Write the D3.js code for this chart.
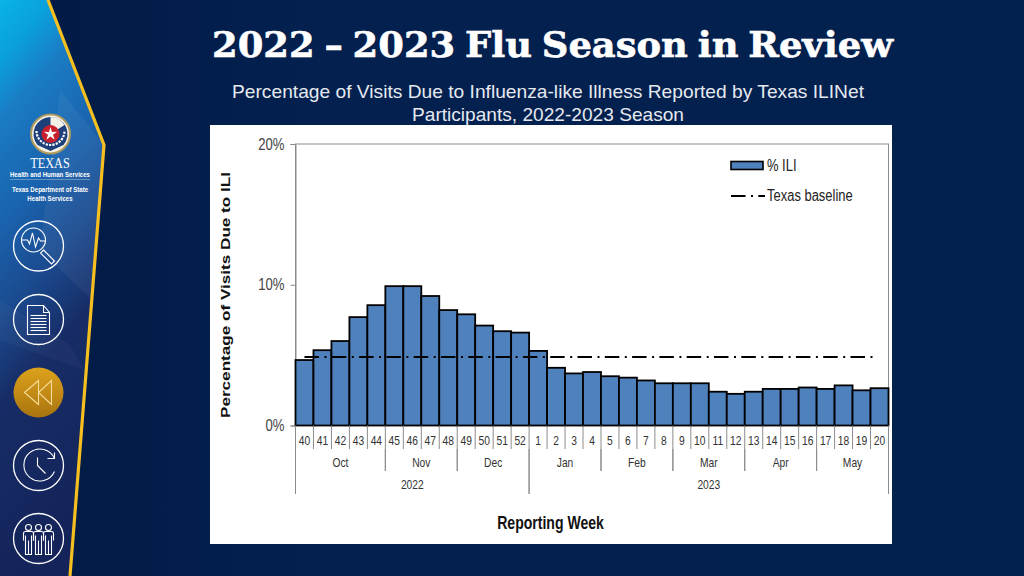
<!DOCTYPE html>
<html><head><meta charset="utf-8">
<script src="https://cdn.jsdelivr.net/npm/d3@7/dist/d3.min.js"></script>
<style>html,body{margin:0;padding:0;background:#03204f;overflow:hidden}svg{display:block}</style></head>
<body><svg id="c" width="1024" height="576" xmlns="http://www.w3.org/2000/svg"></svg>
<script>
const weeks=["40","41","42","43","44","45","46","47","48","49","50","51","52","1","2","3","4","5","6","7","8","9","10","11","12","13","14","15","16","17","18","19","20"];
const ili=[4.65,5.35,6.0,7.7,8.55,9.9,9.9,9.2,8.2,7.9,7.1,6.7,6.6,5.3,4.1,3.7,3.8,3.5,3.4,3.2,3.0,3.0,3.0,2.4,2.25,2.4,2.6,2.6,2.7,2.6,2.85,2.5,2.65];
const baseline=4.87;
const yTicks=[0,10,20];
const months=["Oct","Nov","Dec","Jan","Feb","Mar","Apr","May"];
const monthWeekCounts=[5,4,4,4,4,4,4,4];
const years=["2022","2023"];
const yearWeekCounts=[13,20];
const titleText="2022 – 2023 Flu Season in Review";
const subtitleLines=["Percentage of Visits Due to Influenza-like Illness Reported by Texas ILINet","Participants, 2022-2023 Season"];
const legendLabels=["% ILI","Texas baseline"];

const svg=d3.select("#c");
const defs=svg.append("defs");
const bg=defs.append("linearGradient").attr("id","bg").attr("x1",0).attr("x2",1).attr("y1",0).attr("y2",0);
bg.append("stop").attr("offset","0").attr("stop-color","#021a44");
bg.append("stop").attr("offset","0.3").attr("stop-color","#03204f");
bg.append("stop").attr("offset","1").attr("stop-color","#03214f");
const sb=defs.append("linearGradient").attr("id","sb").attr("x1",0).attr("x2",0.2).attr("y1",0).attr("y2",1);
[[0,"#08b4e6"],[0.1,"#0aa0dc"],[0.2,"#1a7cc4"],[0.38,"#1a62ad"],[0.52,"#1b4c91"],[0.68,"#172c66"],[1,"#14245a"]].forEach(d=>sb.append("stop").attr("offset",d[0]).attr("stop-color",d[1]));
const gold=defs.append("linearGradient").attr("id","gold").attr("x1",0).attr("x2",0).attr("y1",0).attr("y2",1);
gold.append("stop").attr("offset","0").attr("stop-color","#dca21c");
gold.append("stop").attr("offset","1").attr("stop-color","#a9740f");
svg.append("rect").attr("width",1024).attr("height",576).attr("fill","url(#bg)");

// sidebar
svg.append("path").attr("d","M0 0L48 0L104 145L70 576L0 576Z").attr("fill","url(#sb)");
svg.append("path").attr("d","M60 90L104 145L92 300L40 250Z").attr("fill","#fff").attr("opacity",.05);
svg.append("path").attr("d","M0 300L70 345L84 370L0 340Z").attr("fill","#fff").attr("opacity",.03);
svg.append("path").attr("d","M48 0L104 145L70 576").attr("fill","none").attr("stroke","#f6bf20").attr("stroke-width",3.2);

const narrowEls=[];
const nar=(sel,s)=>{sel.each(function(){narrowEls.push([this,s])});return sel;};
const sans="Liberation Sans";

// seal
const seal=svg.append("g").attr("transform","translate(50.5,134)");
seal.append("circle").attr("r",19.5).attr("fill","#f4f1e6").attr("stroke","#b09a5e").attr("stroke-width",2);
seal.append("path").attr("d","M0 -17A17 17 0 0 0 -13 11L0 17L13 11A17 17 0 0 0 0 -17Z").attr("fill","#1d3f7a");
seal.append("path").attr("d","M0 -17A17 17 0 0 1 14 -9L0 0Z").attr("fill","#f4f1e6");
seal.append("path").attr("d","M-14 -3A14 14 0 0 0 14 -3").attr("fill","none").attr("stroke","#fff").attr("stroke-width",2.2).attr("stroke-dasharray","2.2 1.2");
seal.append("circle").attr("r",9).attr("fill","#c8202c");
const star=d3.range(10).map(i=>{const r=i%2?2.6:7,a=i*Math.PI/5-Math.PI/2;return [r*Math.cos(a),r*Math.sin(a)]});
seal.append("path").attr("d",d3.line()(star)+"Z").attr("fill","#fff");
const sideT=svg.append("g").attr("fill","#fff").attr("text-anchor","middle");
nar(sideT.append("text").attr("x",50).attr("y",168).attr("font-family","Liberation Serif").attr("font-size",14.5).text("TEXAS"),.85);
nar(sideT.append("text").attr("x",50).attr("y",176.5).attr("font-family",sans).attr("font-weight","bold").attr("font-size",7.6).text("Health and Human Services"),.8);
svg.append("line").attr("x1",10).attr("x2",90).attr("y1",179.5).attr("y2",179.5).attr("stroke","#8fb4d8").attr("stroke-width",.6);
nar(sideT.append("text").attr("x",50).attr("y",192).attr("font-family",sans).attr("font-weight","bold").attr("font-size",7.6).text("Texas Department of State"),.8);
nar(sideT.append("text").attr("x",50).attr("y",201).attr("font-family",sans).attr("font-weight","bold").attr("font-size",7.6).text("Health Services"),.8);

// round icons
const icon=(cy,fill)=>{const g=svg.append("g").attr("transform",`translate(38.5,${cy})`).attr("fill","none").attr("stroke","#fff").attr("stroke-width",1.1);
 g.append("circle").attr("r",25).attr("stroke-width",1.3).attr("fill",fill||"none").attr("stroke",fill?"none":"#fff");return g;};
let g=icon(246);
g.append("circle").attr("cx",-5).attr("cy",-6).attr("r",12);
g.append("path").attr("d","M-17 -6H-11L-9 -2L-6 -13L-3 1L0 -8L2 -5H7");
g.append("path").attr("d","M5 4L16 15L13 18L2 7Z");
g=icon(319.5);
g.append("path").attr("d","M-11 -14H5L11 -7V15H-11ZM5 -14V-7H11");
d3.range(6).forEach(i=>g.append("line").attr("x1",-8).attr("x2",8).attr("y1",-4+i*3).attr("y2",-4+i*3));
g=icon(392.5,"url(#gold)");
g.attr("stroke","#f6dc9a");
g.append("path").attr("d","M-14 0L0 -12V12ZM0 0L13 -12V12Z");
g=icon(465.5);
g.append("path").attr("d","M16 -7A16 16 0 1 0 16 6");
g.append("path").attr("d","M9 -7H16V-13");
g.append("path").attr("d","M-1 -8V0L7 8");
g=icon(538.5);
[-10,0,10].forEach(dx=>{g.append("circle").attr("cx",dx).attr("cy",-11).attr("r",3);
 g.append("path").attr("d",`M${dx-5} 2V-5Q${dx-5} -7 ${dx-3} -7H${dx+3}Q${dx+5} -7 ${dx+5} -5V2M${dx-3} -3V16H${dx+3}V-3M${dx} 2V16`);});

// titles
svg.append("text").attr("x",552.5).attr("y",57).attr("text-anchor","middle").attr("font-family","DejaVu Serif").attr("font-weight","bold").attr("font-size",36).attr("fill","#fff").attr("stroke","#fff").attr("stroke-width",.6).attr("word-spacing",-3).attr("textLength",681).attr("lengthAdjust","spacingAndGlyphs").text(titleText);
svg.selectAll(".sub").data(subtitleLines).join("text").attr("class","sub").attr("x",548).attr("y",(d,i)=>98+i*23).attr("text-anchor","middle").attr("font-family",sans).attr("font-size",19).attr("fill","#e6e9ef").attr("textLength",(d,i)=>i?272:632).attr("lengthAdjust","spacingAndGlyphs").text(d=>d);

// chart panel
svg.append("rect").attr("x",210).attr("y",125).attr("width",682).attr("height",419).attr("fill","#fff");
const x=d3.scaleBand().domain(d3.range(weeks.length)).range([295.5,888.5]).paddingInner(0).paddingOuter(0);
const y=d3.scaleLinear().domain([0,20]).range([425.5,144]);
svg.append("rect").attr("x",295.5).attr("y",144).attr("width",593).attr("height",281.5).attr("fill","none").attr("stroke","#8c8c8c").attr("stroke-width",1);
const yAxis=d3.axisLeft(y).tickValues(yTicks).tickSize(5).tickFormat(d=>d+"%");
const ya=svg.append("g").attr("transform","translate(295.5,0)").call(yAxis);
ya.select(".domain").attr("stroke","#8c8c8c");
ya.selectAll("line").attr("stroke","#8c8c8c");
nar(ya.selectAll("text").attr("font-family",sans).attr("font-size",16).attr("fill","#444").attr("x",-11),.82);

svg.selectAll(".bar").data(ili).join("rect").attr("class","bar").attr("x",(d,i)=>x(i)).attr("y",d=>y(d)).attr("width",x.bandwidth()).attr("height",d=>y(0)-y(d)).attr("fill","#4f81bd").attr("stroke","#000").attr("stroke-width",1.8);
svg.append("line").attr("x1",x(0)+9).attr("x2",x(32)+x.bandwidth()-14).attr("y1",y(baseline)).attr("y2",y(baseline)).attr("stroke","#000").attr("stroke-width",2).attr("stroke-dasharray","14.5 5.5 2 5.3");

// multi-level x axis
const xb=svg.append("g");
const axisY=y(0);
nar(xb.selectAll(".w").data(weeks).join("text").attr("class","w").attr("x",(d,i)=>x(i)+x.bandwidth()/2).attr("y",445).attr("text-anchor","middle").attr("font-family",sans).attr("font-size",13.5).attr("fill","#333").text(d=>d),.76);
xb.selectAll(".wt").data(d3.range(weeks.length+1)).join("line").attr("class","wt").attr("x1",i=>295.5+i*x.bandwidth()).attr("x2",i=>295.5+i*x.bandwidth()).attr("y1",axisY).attr("y2",449).attr("stroke","#8c8c8c");
let c=0;
months.forEach((m,i)=>{const a=c,b=c+monthWeekCounts[i];c=b;
 const xa=295.5+a*x.bandwidth(),xe=295.5+b*x.bandwidth();
 nar(xb.append("text").attr("x",(xa+xe)/2).attr("y",467).attr("text-anchor","middle").attr("font-family",sans).attr("font-size",13.5).attr("fill","#333").text(m),.76);
 xb.append("line").attr("x1",xa).attr("x2",xa).attr("y1",449).attr("y2",471).attr("stroke","#8c8c8c");
 xb.append("line").attr("x1",xe).attr("x2",xe).attr("y1",449).attr("y2",471).attr("stroke","#8c8c8c");});
c=0;
years.forEach((yr,i)=>{const a=c,b=c+yearWeekCounts[i];c=b;
 const xa=295.5+a*x.bandwidth(),xe=295.5+b*x.bandwidth();
 nar(xb.append("text").attr("x",(xa+xe)/2).attr("y",489).attr("text-anchor","middle").attr("font-family",sans).attr("font-size",13.5).attr("fill","#333").text(yr),.76);
 xb.append("line").attr("x1",xa).attr("x2",xa).attr("y1",471).attr("y2",494).attr("stroke","#8c8c8c");
 xb.append("line").attr("x1",xe).attr("x2",xe).attr("y1",471).attr("y2",494).attr("stroke","#8c8c8c");});

// axis titles
nar(svg.append("text").attr("x",550.5).attr("y",529).attr("text-anchor","middle").attr("font-family",sans).attr("font-weight","bold").attr("font-size",18).attr("fill","#111").text("Reporting Week"),.78);
svg.append("text").attr("transform","translate(229.5,295) rotate(-90)").attr("text-anchor","middle").attr("font-family",sans).attr("font-weight","bold").attr("font-size",13.5).attr("textLength",246).attr("lengthAdjust","spacingAndGlyphs").attr("fill","#111").text("Percentage of Visits Due to ILI");

// legend
svg.append("rect").attr("x",731).attr("y",161.5).attr("width",32).attr("height",8).attr("fill","#4f81bd").attr("stroke","#000").attr("stroke-width",1.6);
svg.append("line").attr("x1",731).attr("x2",765).attr("y1",196).attr("y2",196).attr("stroke","#000").attr("stroke-width",1.8).attr("stroke-dasharray","14.5 5.5 2 5.3");
nar(svg.selectAll(".lg").data(legendLabels).join("text").attr("class","lg").attr("x",767).attr("y",(d,i)=>171+i*30).attr("font-family",sans).attr("font-size",16).attr("fill","#222").text(d=>d),.81);

narrowEls.forEach(([el,s])=>{const l=el.getComputedTextLength();el.setAttribute("textLength",l*s);el.setAttribute("lengthAdjust","spacingAndGlyphs");});
</script></body></html>
